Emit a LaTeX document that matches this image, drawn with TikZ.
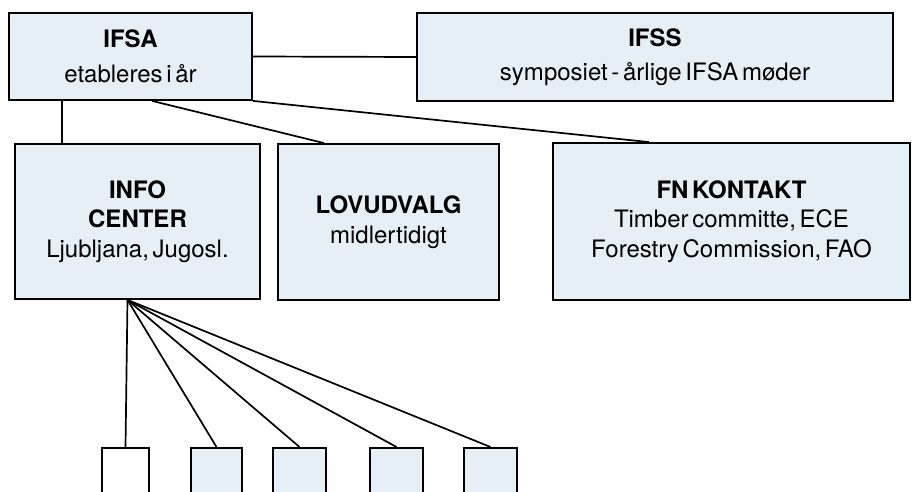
\documentclass[tikz,border=0pt]{standalone}
\usepackage{fontspec}
\setmainfont[WordSpace=0.55]{TeX Gyre Heros}
\definecolor{boxfill}{HTML}{E7EFF6}
\tikzset{
  box/.style={draw=black, fill=boxfill, line width=1.8pt, align=center,
              inner sep=0pt, font=\fontsize{24}{29.5}\selectfont},
  leaf/.style={box, anchor=north, minimum height=70pt},
  ln/.style={line width=1.7pt, draw=black}
}

\begin{document}
\begin{tikzpicture}[x=1pt,y=-1pt]
  \clip (0,0) rectangle (914,492);
  \fill[white] (0,0) rectangle (914,492);
  % top row
  \node[box, minimum width=243pt, minimum height=87pt] (ifsa) at (130.5,56.5)
    {{\bfseries IFSA}\\[5pt]etableres i år};
  \node[box, minimum width=476pt, minimum height=88pt] (ifss) at (655,57)
    {{\bfseries IFSS}\\[5pt]symposiet - årlige IFSA møder};
  % middle row
  \node[box, minimum width=245pt, minimum height=155pt] (info) at (137.5,221.5)
    {{\bfseries INFO}\\{\bfseries CENTER}\\Ljubljana, Jugosl.};
  \node[box, minimum width=221pt, minimum height=156pt] (lov) at (388.5,222)
    {{\bfseries LOVUDVALG}\\midlertidigt};
  \node[box, minimum width=357pt, minimum height=157pt] (fn) at (731.5,221.5)
    {{\bfseries FN KONTAKT}\\Timber committe, ECE\\Forestry Commission, FAO};
  % bottom row
  \node[leaf, fill=white, minimum width=47pt] (b1) at (125.5,447) {};
  \node[leaf, minimum width=51pt] (b2) at (216.5,447) {};
  \node[leaf, minimum width=53pt] (b3) at (299.5,447) {};
  \node[leaf, minimum width=53pt] (b4) at (396.5,447) {};
  \node[leaf, minimum width=53pt] (b5) at (490.5,447) {};

  \draw[ln] (ifsa.east) -- (ifss.west);
  \draw[ln] ([xshift=54pt]ifsa.south west) -- ([xshift=54pt]ifsa.south west |- info.north);
  \draw[ln] ([xshift=144pt]ifsa.south west) -- ([xshift=47pt]lov.north west);
  \draw[ln] (ifsa.south east) -- ([xshift=97pt]fn.north west);
  \foreach \b in {b1,b2,b3,b4,b5}
    \draw[ln] ([xshift=-10pt]info.south) -- (\b.north);
\end{tikzpicture}
\end{document}
